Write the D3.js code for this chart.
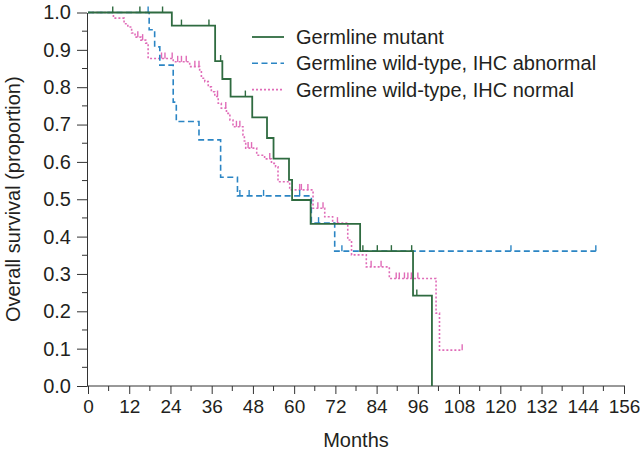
<!DOCTYPE html>
<html>
<head>
<meta charset="utf-8">
<script src="https://cdn.jsdelivr.net/npm/d3@7"></script>
<style>
  html, body { margin: 0; padding: 0; background: #fff; }
  svg { display: block; }
  text { font-family: "Liberation Sans", Arial, sans-serif; fill: #231f20; }
</style>
</head>
<body>
<svg id="chart" width="640" height="458"></svg>
<script>
// ---- Data ----
const seriesNames = ["Germline mutant", "Germline wild-type, IHC abnormal", "Germline wild-type, IHC normal"];

const mutantTimes = [0, 24.4, 37.0, 39.1, 41.5, 47.8, 52.1, 54.0, 58.5, 59.4, 64.8, 79.2, 94.6, 100.1];
const mutantSurv  = [1.0, 0.965, 0.870, 0.822, 0.775, 0.719, 0.664, 0.609, 0.552, 0.498, 0.434, 0.361, 0.242, 0.0];
const mutantCensor = [7.2, 15.1, 21.7, 27.2, 35.2, 38.6, 45.8, 80.0, 84.2, 88.3, 94.2, 95.7];

const abnormalTimes = [0, 17.8, 19.4, 20.9, 24.8, 25.7, 32.3, 38.6, 43.5, 65.0, 71.8, 147.8];
const abnormalSurv  = [1.0, 0.954, 0.908, 0.859, 0.760, 0.708, 0.659, 0.559, 0.509, 0.436, 0.361, 0.361];
const abnormalCensor = [17.5, 44.2, 46.9, 51.1, 61.6, 67.1, 73.9, 123.1, 147.8];

const normalTimes = [0, 7.4, 10.5, 11.6, 12.7, 13.7, 15.4, 16.8, 17.5, 24.8, 29.6, 32.5, 33.0, 34.0, 35.0, 35.9, 36.9,
  37.9, 38.8, 40.3, 41.3, 42.2, 45.1, 45.5, 45.9, 49.1, 51.4, 53.4, 54.6, 55.3, 58.7, 65.5, 68.9, 71.2, 75.6, 76.7,
  81.0, 87.7, 101.3, 102.3, 108.9];
const normalSurv = [1.0, 0.985, 0.970, 0.961, 0.945, 0.934, 0.926, 0.918, 0.877, 0.868, 0.855, 0.841, 0.824, 0.815, 0.801, 0.788, 0.775,
  0.757, 0.744, 0.730, 0.712, 0.694, 0.672, 0.656, 0.637, 0.618, 0.608, 0.596, 0.587, 0.547, 0.525, 0.476, 0.453, 0.436, 0.391, 0.351,
  0.319, 0.288, 0.195, 0.096, 0.096];
const normalCensor = [14.5, 15.9, 21.4, 22.4, 24.5, 26.1, 27.2, 28.6, 31.1, 32.3, 37.7, 40.1, 43.2, 44.2, 46.6, 47.6, 52.9,
  61.6, 62.1, 64.0, 66.9, 68.4, 72.6, 82.4, 85.3, 89.7, 90.6, 92.1, 93.1, 94.1, 96.0, 108.9];

const xTicks = [0, 12, 24, 36, 48, 60, 72, 84, 96, 108, 120, 132, 144, 156];
const yTicks = [0, 0.1, 0.2, 0.3, 0.4, 0.5, 0.6, 0.7, 0.8, 0.9, 1.0];
const xLabel = "Months";
const yLabel = "Overall survival (proportion)";

// ---- Chart ----
const svg = d3.select("#chart");
const x = d3.scaleLinear().domain([0, 156]).range([88, 624]);
const y = d3.scaleLinear().domain([0, 1]).range([386, 12.5]);
const axisColor = "#333";
const fontSize = 20;
const tickFont = 19;

// X axis
const xMinor = d3.range(6, 156, 12);
const gx = svg.append("g").attr("transform", `translate(0,${y(0)})`);
gx.call(d3.axisBottom(x).tickValues(xTicks).tickSize(8).tickSizeOuter(0).tickPadding(6).tickFormat(d3.format("d")));
gx.selectAll(".tick text").attr("font-size", tickFont).attr("font-family", "Liberation Sans, Arial, sans-serif").attr("fill", "#231f20");
gx.append("g").selectAll("line").data(xMinor).join("line")
  .attr("x1", d => x(d)).attr("x2", d => x(d)).attr("y1", 0).attr("y2", 5).attr("stroke", axisColor);
gx.select(".domain").attr("stroke", axisColor).attr("d", `M${x(0) - 1},0H${x(156) + 1}`);
gx.selectAll(".tick line").attr("stroke", axisColor);

// Y axis
const yMinor = d3.range(0.05, 1.0, 0.1);
const gy = svg.append("g").attr("transform", `translate(${x(0) - 1},0)`);
gy.call(d3.axisLeft(y).tickValues(yTicks).tickSize(10).tickSizeOuter(0).tickPadding(6).tickFormat(d3.format(".1f")));
gy.selectAll(".tick text").attr("font-size", fontSize).attr("font-family", "Liberation Sans, Arial, sans-serif").attr("fill", "#231f20");
gy.append("g").selectAll("line").data(yMinor).join("line")
  .attr("y1", d => y(d)).attr("y2", d => y(d)).attr("x1", 0).attr("x2", -5).attr("stroke", axisColor);
gy.select(".domain").attr("stroke", axisColor);
gy.selectAll(".tick line").attr("stroke", axisColor);

// Axis titles
svg.append("text").attr("x", (x(0) + x(156)) / 2).attr("y", 447).attr("text-anchor", "middle")
  .attr("font-size", fontSize).text(xLabel);
svg.append("text").attr("transform", `translate(20,${(y(0) + y(1)) / 2}) rotate(-90)`)
  .attr("text-anchor", "middle").attr("font-size", fontSize).text(yLabel);

// Curves
const series = [
  { name: seriesNames[0], times: mutantTimes, surv: mutantSurv, censor: mutantCensor, color: "#2f6b40", dash: null, width: 1.8 },
  { name: seriesNames[1], times: abnormalTimes, surv: abnormalSurv, censor: abnormalCensor, color: "#2b85c4", dash: "6,3.5", width: 1.6 },
  { name: seriesNames[2], times: normalTimes, surv: normalSurv, censor: normalCensor, color: "#e06cb8", dash: "2,2", width: 1.6 }
];

function survAt(s, t) {
  let v = s.surv[0];
  for (let i = 0; i < s.times.length; i++) { if (s.times[i] <= t) v = s.surv[i]; }
  return v;
}

const line = d3.line().x(d => x(d[0])).y(d => y(d[1])).curve(d3.curveStepAfter);

// draw in order: pink, blue, green on top
[series[2], series[1], series[0]].forEach(s => {
  const pts = s.times.map((t, i) => [t, s.surv[i]]);
  svg.append("path").datum(pts).attr("d", line)
    .attr("fill", "none").attr("stroke", s.color).attr("stroke-width", s.width)
    .attr("stroke-dasharray", s.dash);
  svg.append("g").selectAll("line").data(s.censor).join("line")
    .attr("x1", d => x(d)).attr("x2", d => x(d))
    .attr("y1", d => y(survAt(s, d))).attr("y2", d => y(survAt(s, d)) - 6)
    .attr("stroke", s.color).attr("stroke-width", 1.4);
});

// Legend
const leg = svg.append("g");
series.forEach((s, i) => {
  const ly = 37 + i * 26.3;
  leg.append("line").attr("x1", 252).attr("x2", 284).attr("y1", ly).attr("y2", ly)
    .attr("stroke", s.color).attr("stroke-width", s.width).attr("stroke-dasharray", s.dash);
  leg.append("text").attr("x", 296).attr("y", ly).attr("dy", "0.35em")
    .attr("font-size", fontSize).text(s.name);
});
</script>
</body>
</html>
